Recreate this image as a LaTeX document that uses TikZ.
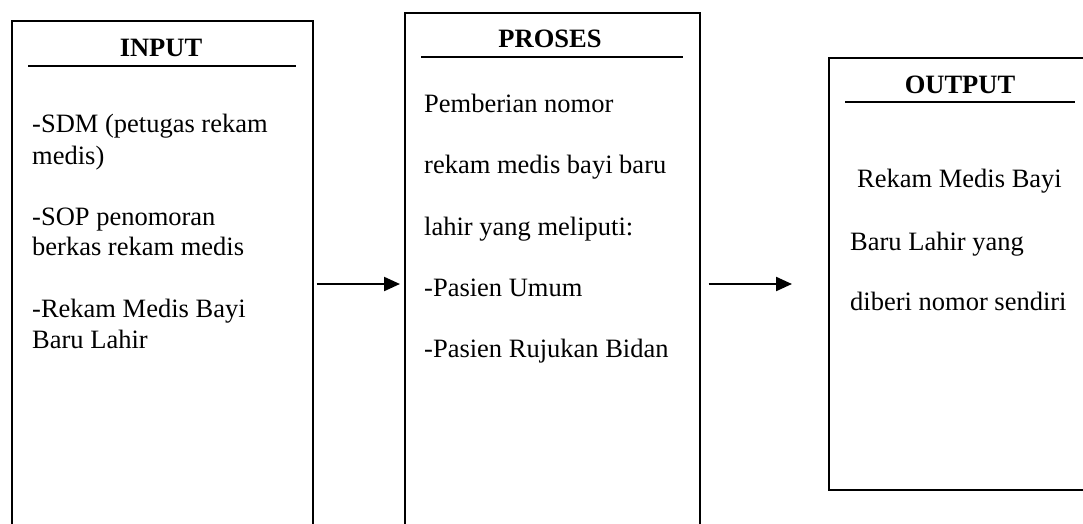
\documentclass[tikz,border=0pt]{standalone}
\usepackage{fontspec}
\setmainfont{Liberation Serif}
\usetikzlibrary{arrows.meta}
\begin{document}
\begin{tikzpicture}[x=1pt,y=-1pt,
  boxnode/.style={draw, line width=1.6pt, rectangle, inner sep=0pt, anchor=north west},
  ttl/.style={font=\fontsize{26.5}{30}\selectfont\bfseries, anchor=base, inner sep=0pt},
  body/.style={font=\fontsize{26.5}{30}\selectfont, anchor=base west, inner sep=0pt},
  rulel/.style={line width=2.2pt},
  conn/.style={line width=2.2pt, -{Triangle[length=16pt,width=14pt]}}]
\useasboundingbox (0,0) rectangle (1083,523);
\clip (0,0) rectangle (1083,523);
% boxes
\node[boxnode, minimum width=301pt, minimum height=560pt] (inp) at (11,20) {};
\node[boxnode, minimum width=295pt, minimum height=560pt] (pro) at (404,12) {};
\node[boxnode, minimum width=300pt, minimum height=432pt] (out) at (828,57) {};
% titles
\node[ttl] (tin) at (161,56) {INPUT};
\node[ttl] (tpr) at (550,47) {PROSES};
\node[ttl] (tou) at (960,93) {OUTPUT};
\draw[rulel] (28,66) -- (296,66);
\draw[rulel] (421,57) -- (683,57);
\draw[rulel] (845,102) -- (1075,102);
% input text
\node[body] (i1) at (32,132) {-SDM (petugas rekam};
\node[body] (i2) at (32,164) {medis)};
\node[body] (i3) at (32,225) {-SOP penomoran};
\node[body] (i4) at (32,255) {berkas rekam medis};
\node[body] (i5) at (32,317) {-Rekam Medis Bayi};
\node[body] (i6) at (32,348) {Baru Lahir};
% proses text
\node[body] (p1) at (424,112) {Pemberian nomor};
\node[body] (p2) at (424,173) {rekam medis bayi baru};
\node[body] (p3) at (424,235) {lahir yang meliputi:};
\node[body] (p4) at (424,296) {-Pasien Umum};
\node[body] (p5) at (424,357) {-Pasien Rujukan Bidan};
% output text
\node[body] (o1) at (857,187) {Rekam Medis Bayi};
\node[body] (o2) at (850,250) {Baru Lahir yang};
\node[body] (o3) at (850,310) {diberi nomor sendiri};
% connectors
\coordinate (ay) at (0,284);
\draw[conn, shorten <=3pt, shorten >=4pt] (inp.east |- ay) -- (pro.west |- ay);
\draw[conn, shorten <=8pt, shorten >=36pt] (pro.east |- ay) -- (out.west |- ay);
\end{tikzpicture}
\end{document}
